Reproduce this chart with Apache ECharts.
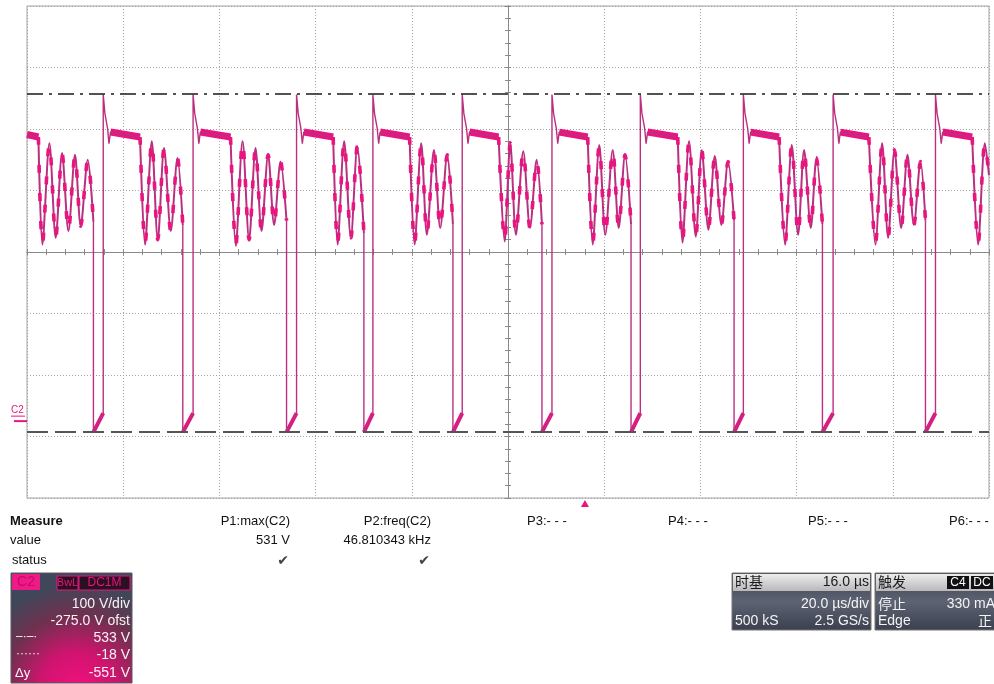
<!DOCTYPE html>
<html>
<head>
<meta charset="utf-8">
<script src="https://cdn.jsdelivr.net/npm/echarts@6/dist/echarts.min.js"></script>
<style>
  html, body { margin: 0; padding: 0; background: #ffffff; }
  #chart { width: 994px; height: 684px; }
</style>
</head>
<body>
<div id="chart"></div>
<script>
// C2 drain voltage capture. Time in µs from the left screen edge, voltage in V.
const screenTime = [0, 200];        // 10 div x 20.0 µs/div
const screenVolt = [-125, 675];     // 8 div x 100 V/div, -275.0 V offset
const timeDivs = 10;
const voltDivs = 8;
const triggerTime = 116;            // trigger point, 16.0 µs right of centre

// Cursor levels
const cursorHigh = 533;
const cursorLow = -18;

// Switch turn-off instants (drain voltage rises)
const riseTimes = [15.85, 34.53, 56.04, 71.91, 90.48, 109.14, 127.51, 148.93, 167.59, 188.87];

// End of each flat plateau (first entry is the partial plateau at the left edge)
const plateauEnds = [2.37, 23.50, 42.31, 63.65, 79.54, 98.05, 116.57, 135.29, 156.36, 175.02, 196.50];
const firstPlateauV = 466;
const plateauStartV = 470;
const plateauEndV = 462;

// Turn-off transient after each rise: [µs after the rise, V]
const turnOffTransient = [[0, 531], [0.35, 500], [0.9, 476], [1.2, 451], [1.5, 470]];

// On-state: drain voltage right after turn-on and just before turn-off
const onStartV = -18;
const onEndV = 13;

// DCM ringing extrema after each plateau; last point is the valley where the switch turns on
const ringing = [
  [[3.20, 287], [4.66, 452], [5.97, 298], [7.28, 436], [8.61, 309], [9.98, 433], [11.17, 317], [12.63, 425], [13.81, 324]],
  [[24.54, 287], [25.94, 455], [27.19, 295], [28.50, 444], [29.89, 309], [31.28, 428], [32.39, 318]],
  [[43.41, 285], [44.81, 455], [46.18, 295], [47.51, 444], [48.76, 309], [50.13, 433], [51.38, 319], [52.71, 422], [53.96, 326]],
  [[64.57, 287], [65.94, 455], [67.33, 298], [68.68, 447], [70.04, 306]],
  [[80.58, 287], [81.96, 452], [83.14, 303], [84.60, 441], [85.91, 314], [87.36, 433], [88.55, 320]],
  [[99.30, 292], [100.47, 452], [101.65, 303], [103.17, 439], [104.57, 314], [105.96, 425], [107.06, 320]],
  [[117.61, 287], [118.98, 449], [120.23, 303], [121.77, 441], [123.02, 314], [124.33, 433], [125.58, 320]],
  [[136.27, 290], [137.64, 455], [139.04, 300], [140.28, 441], [141.66, 311], [142.99, 431], [144.36, 319], [145.75, 422], [147.00, 326]],
  [[157.60, 287], [159.00, 449], [160.31, 303], [161.56, 441], [162.95, 314], [164.12, 428], [165.37, 320]],
  [[176.39, 287], [177.78, 452], [179.03, 298], [180.35, 441], [181.74, 314], [183.05, 433], [184.38, 319], [185.75, 422], [186.79, 326]],
  [[197.74, 287], [199.14, 452], [200.00, 400]]
];

// Measurement readouts
const measureHeads = ['P1:max(C2)', 'P2:freq(C2)', 'P3:- - -', 'P4:- - -', 'P5:- - -', 'P6:- - -'];
const measureValues = ['531 V', '46.810343 kHz'];

// ---------- build the trace pieces ----------
const GAP = '-';
const edgeTrace = [];     // edges, on-state, transient and plateaus
const ringTrace = [];     // ringing sections
const plateauBand = [];   // noisy plateau band
const onBand = [];        // on-state blob

edgeTrace.push([0, firstPlateauV], [plateauEnds[0], plateauEndV], [0, GAP]);
plateauBand.push([0, firstPlateauV], [plateauEnds[0], plateauEndV], [0, GAP]);

ringing.forEach((ring, i) => {
  ringTrace.push([plateauEnds[i], plateauEndV]);
  ring.forEach(p => ringTrace.push(p));
  ringTrace.push([0, GAP]);
  if (i < riseTimes.length) {
    const valley = ring[ring.length - 1];
    const tf = valley[0];
    const tr = riseTimes[i];
    edgeTrace.push(valley, [tf, onStartV], [tr, onEndV]);
    turnOffTransient.forEach(d => edgeTrace.push([tr + d[0], d[1]]));
    edgeTrace.push([plateauEnds[i + 1], plateauEndV], [0, GAP]);
    const last = turnOffTransient[turnOffTransient.length - 1];
    plateauBand.push([tr + last[0], last[1]], [plateauEnds[i + 1], plateauEndV], [0, GAP]);
    onBand.push([tf, onStartV], [tr, onEndV], [0, GAP]);
  }
});

const GRID = { left: 27, top: 6, width: 962, height: 492 };
const FONT = '"Liberation Sans", Arial, sans-serif';
const CJK = '"Noto Sans CJK SC", "Liberation Sans", sans-serif';
const dotted = { color: '#a4a4a4', width: 1, type: [1, 2] };
const traceColor = '#bb2f80';
const pink = '#e8157f';

function hiddenAxis(extra) {
  return Object.assign({
    type: 'value', show: true,
    axisLine: { show: false }, axisTick: { show: false },
    axisLabel: { show: false }, splitLine: { show: false }
  }, extra);
}
function centreAxis(extra) {
  return Object.assign({
    type: 'value', show: true,
    axisLine: { show: true, onZero: false, lineStyle: { color: '#8a8a8a', width: 1 } },
    axisTick: { show: true, length: 3, lineStyle: { color: '#8a8a8a' } },
    minorTick: { show: true, splitNumber: 5, length: 3, lineStyle: { color: '#8a8a8a' } },
    axisLabel: { show: false }, splitLine: { show: false }
  }, extra);
}

const chart = echarts.init(document.getElementById('chart'), null, { renderer: 'canvas' });

const option = {
  animation: false,
  backgroundColor: '#ffffff',
  grid: Object.assign({ show: true, borderColor: '#a3a3a3', borderWidth: 1, backgroundColor: '#ffffff' }, GRID),
  xAxis: [
    hiddenAxis({ min: screenTime[0], max: screenTime[1], interval: (screenTime[1] - screenTime[0]) / timeDivs,
      splitLine: { show: true, lineStyle: dotted } }),
    centreAxis({ min: 0, max: timeDivs, interval: 1, position: 'bottom', offset: -GRID.height / 2,
      axisTick: { show: true, inside: false, length: 3, lineStyle: { color: '#8a8a8a' } } }),
    centreAxis({ min: 0, max: timeDivs, interval: 1, position: 'bottom', offset: -GRID.height / 2,
      axisTick: { show: true, inside: true, length: 3, lineStyle: { color: '#8a8a8a' } } })
  ],
  yAxis: [
    hiddenAxis({ min: screenVolt[0], max: screenVolt[1] }),
    hiddenAxis({ min: 0, max: voltDivs, interval: 1, splitLine: { show: true, lineStyle: dotted } }),
    centreAxis({ min: 0, max: voltDivs, interval: 1, position: 'left', offset: -GRID.width / 2,
      axisTick: { show: true, inside: false, length: 3, lineStyle: { color: '#8a8a8a' } } }),
    centreAxis({ min: 0, max: voltDivs, interval: 1, position: 'left', offset: -GRID.width / 2,
      axisTick: { show: true, inside: true, length: 3, lineStyle: { color: '#8a8a8a' } } })
  ],
  series: [
    {
      name: 'plateau', type: 'line', xAxisIndex: 0, yAxisIndex: 0,
      data: plateauBand, showSymbol: false, connectNulls: false, silent: true,
      lineStyle: { color: pink, width: 7, cap: 'butt' }, z: 3
    },
    {
      name: 'on', type: 'line', xAxisIndex: 0, yAxisIndex: 0,
      data: onBand, showSymbol: false, connectNulls: false, silent: true,
      lineStyle: { color: pink, width: 4 }, z: 3
    },
    {
      name: 'C2', type: 'line', xAxisIndex: 0, yAxisIndex: 0,
      data: edgeTrace, showSymbol: false, connectNulls: false, silent: true,
      lineStyle: { color: traceColor, width: 1.4 }, z: 4,
      markLine: {
        silent: true, symbol: 'none', label: { show: false },
        data: [
          { yAxis: cursorHigh, lineStyle: { color: '#1a1a1a', width: 1.6, type: [16, 6, 3, 6] } },
          { yAxis: cursorLow, lineStyle: { color: '#555555', width: 2, type: [21, 7] } }
        ]
      }
    },
    {
      name: 'ringing', type: 'line', xAxisIndex: 0, yAxisIndex: 0,
      data: ringTrace, showSymbol: false, connectNulls: false, silent: true,
      smooth: 0.3,
      lineStyle: { color: traceColor, width: 2 }, z: 4
    },
    {
      name: 'ringing-dots', type: 'line', xAxisIndex: 0, yAxisIndex: 0,
      data: ringTrace, showSymbol: false, connectNulls: false, silent: true,
      smooth: 0.3,
      lineStyle: { color: pink, width: 3.6, type: [8, 20] }, z: 5
    }
  ]
};
chart.setOption(option);

// ---------- markers and readout panels ----------
const zeroY = chart.convertToPixel({ yAxisIndex: 0 }, 0);
const trigX = chart.convertToPixel({ xAxisIndex: 0 }, triggerTime);
const bottomY = GRID.top + GRID.height;

function txt(x, y, text, opts) {
  opts = opts || {};
  return {
    type: 'text', x: x, y: y, silent: true, z: 20,
    style: {
      text: text, fill: opts.fill || '#111111',
      font: opts.font || ('13px ' + FONT),
      align: opts.align || 'left', verticalAlign: 'middle'
    }
  };
}
function box(x, y, w, h, fill, stroke) {
  return { type: 'rect', silent: true, z: 15, shape: { x: x, y: y, width: w, height: h },
    style: { fill: fill, stroke: stroke || null, lineWidth: stroke ? 1 : 0 } };
}

const g = [];
// channel ground marker
g.push(txt(11, zeroY - 11, 'C2', { fill: pink, font: '10px ' + FONT }));
g.push({ type: 'line', silent: true, shape: { x1: 11, y1: zeroY - 5, x2: 25, y2: zeroY - 5 }, style: { stroke: pink, lineWidth: 1 } });
g.push({ type: 'line', silent: true, shape: { x1: 14, y1: zeroY, x2: 27, y2: zeroY }, style: { stroke: pink, lineWidth: 2 } });
// trigger position marker
g.push({ type: 'polygon', silent: true, shape: { points: [[trigX - 4, bottomY + 9], [trigX + 4, bottomY + 9], [trigX, bottomY + 2]] },
  style: { fill: pink } });

// measurement table
g.push(txt(10, 521, 'Measure', { font: 'bold 13px ' + FONT }));
g.push(txt(10, 540, 'value'));
g.push(txt(12, 560, 'status'));
const headRight = [290, 431];
headRight.forEach((x, i) => {
  g.push(txt(x, 521, measureHeads[i], { align: 'right' }));
  g.push(txt(x, 540, measureValues[i], { align: 'right' }));
  g.push(txt(x - 7, 561, '\u2714', { align: 'center', fill: '#444444', font: '14px "DejaVu Sans", sans-serif' }));
});
const headLeft = [527, 668, 808, 949];
headLeft.forEach((x, i) => g.push(txt(x, 521, measureHeads[i + 2])));

// C2 channel panel
g.push({ type: 'rect', silent: true, z: 14, shape: { x: 11, y: 573, width: 121, height: 110 },
  style: { stroke: '#5a5a5a', lineWidth: 1,
    fill: { type: 'radial', x: 0.55, y: 1.05, r: 0.95, colorStops: [
      { offset: 0, color: '#f2107e' }, { offset: 0.35, color: '#d0146f' },
      { offset: 0.7, color: '#70304f' }, { offset: 1, color: '#40475a' } ] } } });
g.push(box(12, 574, 28, 16, '#ee1a86'));
g.push(txt(26, 582, 'C2', { align: 'center', fill: '#c8086a', font: '14px ' + FONT }));
g.push(box(57, 576, 21, 14, '#2a1020', pink));
g.push(txt(67.5, 583, 'BwL', { align: 'center', fill: pink, font: '11px ' + FONT }));
g.push(box(79, 576, 51, 14, '#2a1020', pink));
g.push(txt(104.5, 583, 'DC1M', { align: 'center', fill: pink, font: '12px ' + FONT }));
const white = '#f4f4f4';
g.push(txt(130, 604, '100 V/div', { align: 'right', fill: white, font: '14px ' + FONT }));
g.push(txt(130, 621, '-275.0 V ofst', { align: 'right', fill: white, font: '14px ' + FONT }));
g.push(txt(16, 637, '\u2013\u00b7\u2013\u00b7', { fill: white, font: '12px ' + FONT }));
g.push(txt(130, 638, cursorHigh + ' V', { align: 'right', fill: white, font: '14px ' + FONT }));
g.push(txt(16, 654, '\u00b7\u00b7\u00b7\u00b7\u00b7\u00b7', { fill: white, font: '12px ' + FONT }));
g.push(txt(130, 655, cursorLow + ' V', { align: 'right', fill: white, font: '14px ' + FONT }));
g.push(txt(15, 673, '\u0394y', { fill: white, font: '13px ' + FONT }));
g.push(txt(130, 673, (cursorLow - cursorHigh) + ' V', { align: 'right', fill: white, font: '14px ' + FONT }));

// timebase panel
const bodyFill = { type: 'linear', x: 0, y: 0, x2: 0, y2: 1, colorStops: [
  { offset: 0, color: '#3a404e' }, { offset: 0.5, color: '#5d6372' }, { offset: 1, color: '#3a404e' } ] };
const headFill = { type: 'linear', x: 0, y: 0, x2: 0, y2: 1, colorStops: [
  { offset: 0, color: '#ececec' }, { offset: 1, color: '#b9b9b9' } ] };
g.push(box(732, 573, 139, 57, bodyFill, '#777777'));
g.push(box(733, 574, 137, 17, headFill));
g.push(txt(735, 582, '时基', { fill: '#1a1a1a', font: '14px ' + CJK }));
g.push(txt(869, 582, '16.0 µs', { align: 'right', fill: '#1a1a1a', font: '14px ' + FONT }));
g.push(txt(869, 604, '20.0 µs/div', { align: 'right', fill: white, font: '14px ' + FONT }));
g.push(txt(735, 621, '500 kS', { fill: white, font: '14px ' + FONT }));
g.push(txt(869, 621, '2.5 GS/s', { align: 'right', fill: white, font: '14px ' + FONT }));

// trigger panel
g.push(box(875, 573, 122, 57, bodyFill, '#777777'));
g.push(box(876, 574, 120, 17, headFill));
g.push(txt(878, 582, '触发', { fill: '#1a1a1a', font: '14px ' + CJK }));
g.push(box(947, 576, 22, 13, '#111111'));
g.push(txt(958, 582.5, 'C4', { align: 'center', fill: '#ffffff', font: '12px ' + FONT }));
g.push(box(971, 576, 22, 13, '#111111'));
g.push(txt(982, 582.5, 'DC', { align: 'center', fill: '#ffffff', font: '12px ' + FONT }));
g.push(txt(878, 604, '停止', { fill: white, font: '14px ' + CJK }));
g.push(txt(995, 604, '330 mA', { align: 'right', fill: white, font: '14px ' + FONT }));
g.push(txt(878, 621, 'Edge', { fill: white, font: '14px ' + FONT }));
g.push(txt(992, 621, '正', { align: 'right', fill: white, font: '14px ' + CJK }));

chart.setOption({ graphic: { elements: g } });
</script>
</body>
</html>
